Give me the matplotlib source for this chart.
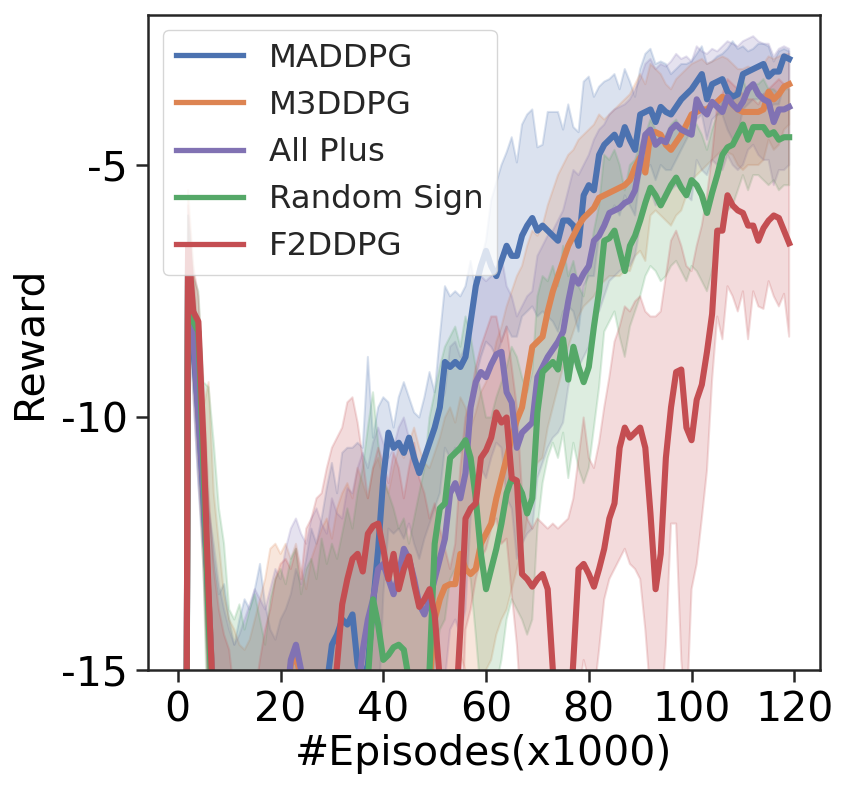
import numpy as np
import matplotlib
matplotlib.use("Agg")
import matplotlib.pyplot as plt

episodes = list(range(120))
labels = ["MADDPG", "M3DDPG", "All Plus", "Random Sign", "F2DDPG"]
colors = ["#4C72B0", "#DD8452", "#8172B3", "#55A868", "#C44E52"]

maddpg_mean = [
 -40, -40, -6.8, -8.6, -9.9, -11.6, -13.6, -15.8, -17, -18,
 -18, -19, -18, -19, -18, -19, -18, -18, -19, -18,
 -18, -17, -18, -17, -17, -17, -16.5, -16.5, -16, -15.3,
 -14.5, -14.3, -14.0, -14.1, -13.9, -14.9, -15.2, -14.9, -13.7, -12.6,
 -11.2, -10.3, -10.6, -10.5, -10.7, -10.4, -10.8, -11.1, -10.8, -10.5,
 -10.2, -9.8, -8.9, -9.0, -8.9, -9.0, -8.8, -8.1, -7.4, -7.0,
 -6.7, -7.0, -7.2, -6.9, -6.6, -6.8, -6.8, -6.4, -6.2, -6.05,
 -6.3, -6.2, -6.3, -6.4, -6.5, -6.1, -6.1, -6.2, -6.6, -5.6,
 -5.4, -5.5, -4.8, -4.6, -4.5, -4.4, -4.6, -4.25, -4.5, -4.7,
 -4.0, -3.95, -3.9, -4.15, -3.85, -3.95, -4.0, -3.85, -3.7, -3.6,
 -3.5, -3.35, -3.2, -3.7, -3.4, -3.35, -3.3, -3.55, -3.65, -3.6,
 -3.2, -3.15, -3.1, -3.05, -3.0, -3.25, -3.15, -3.15, -2.85, -2.9]
maddpg_upper = [
 -40, -40, -6.0, -7.5, -8.5, -10.0, -11.8, -12.8, -13.5, -13.3,
 -14.0, -14.5, -14.0, -13.6, -13.8, -13.4, -12.9, -13.7, -14.2, -14.4,
 -14.0, -13.8, -13.5, -13.0, -13.3, -12.8, -12.2, -12.5, -12.0, -11.4,
 -10.9, -11.5, -10.7, -10.6, -10.6, -10.5, -10.6, -8.8, -10.4, -9.8,
 -9.6, -9.7, -10.2, -9.6, -9.3, -9.6, -9.9, -10.0, -9.6, -9.1,
 -9.5, -8.4, -7.4, -7.6, -7.5, -7.6, -7.4, -6.9, -7.5, -6.9,
 -6.5, -5.7, -5.35, -5.0, -4.75, -4.45, -4.95, -4.2, -4.0, -3.9,
 -4.65, -4.6, -3.95, -3.95, -3.95, -4.3, -3.8, -4.25, -4.35, -3.35,
 -3.25, -3.65, -3.45, -3.35, -3.3, -3.2, -3.5, -3.1, -3.35, -3.65,
 -3.1, -2.8, -2.7, -3.0, -2.95, -3.0, -3.2, -3.1, -3.0, -3.0,
 -2.95, -2.8, -2.65, -3.0, -2.95, -2.85, -2.8, -2.7, -2.55, -2.7,
 -2.65, -2.75, -2.7, -2.6, -2.6, -2.65, -2.95, -2.75, -2.7, -2.75]
maddpg_lower = [
 -40, -40, -7.6, -9.5, -11.3, -13.0, -15.5, -20, -20, -20,
 -20, -20, -20, -20, -20, -20, -20, -20, -20, -20,
 -20, -20, -20, -20, -20, -20, -20, -20, -20, -20,
 -20, -19, -18, -18, -18, -19, -20, -20, -18, -16,
 -13.5, -12.2, -12.3, -12.2, -12.4, -12.1, -12.5, -12.8, -12.4, -12.1,
 -11.8, -11.5, -10.6, -10.8, -10.6, -10.7, -10.5, -9.8, -9.2, -8.8,
 -8.5, -8.6, -8.8, -8.5, -8.2, -8.4, -8.4, -8.0, -7.9, -7.8,
 -8.0, -7.9, -8.0, -8.1, -8.3, -7.9, -7.8, -7.9, -8.3, -7.4,
 -7.2, -7.2, -6.4, -6.1, -6.0, -5.8, -6.0, -5.6, -5.8, -6.0,
 -5.2, -5.1, -5.0, -5.3, -5.0, -5.1, -5.1, -4.9, -4.7, -4.5,
 -4.3, -4.1, -4.0, -4.5, -4.1, -4.0, -4.0, -4.3, -4.5, -4.4,
 -3.9, -3.8, -3.7, -3.7, -3.6, -3.9, -3.8, -3.8, -3.4, -3.4]

m3ddpg_mean = [
 -40, -40, -6.6, -8.2, -9.8, -11.3, -13.6, -15.8, -17, -17.5,
 -18, -18, -18.5, -18, -18, -17.5, -17.5, -17, -17, -16.5,
 -16.5, -15.8, -14.9, -14.7, -15.2, -16, -16.5, -17, -17, -17.5,
 -17.5, -18, -18, -17.5, -17.5, -17, -17, -17, -16.5, -16.5,
 -16.5, -16.5, -16.5, -16, -16, -16, -16, -16, -15.8, -15.3,
 -14.0, -13.6, -13.35, -13.3, -13.3, -12.7, -13.0, -13.1, -13.0, -12.5,
 -12.3, -12.1, -11.6, -11.2, -10.8, -10.4, -10.05, -9.8, -9.2, -8.6,
 -8.5, -8.4, -7.9, -7.5, -7.2, -6.9, -6.6, -6.4, -6.2, -6.05,
 -5.95, -5.85, -5.65, -5.6, -5.55, -5.5, -5.45, -5.4, -5.3, -5.05,
 -4.85, -5.15, -4.35, -4.35, -4.4, -4.6, -4.7, -4.55, -4.4, -4.2,
 -4.0, -3.95, -3.9, -3.9, -3.8, -3.75, -3.65, -3.7, -3.8, -3.9,
 -3.95, -3.95, -3.95, -3.95, -3.9, -3.55, -3.7, -3.6, -3.45, -3.4]
m3ddpg_upper = [
 -40, -40, -5.5, -7.0, -8.5, -9.8, -9.3, -11.5, -12.5, -13.5,
 -14.0, -14.2, -14.5, -14.6, -14.4, -14.0, -13.6, -13.2, -12.6, -12.5,
 -12.7, -12.5, -12.8, -12.5, -13.0, -13.4, -12.8, -12.5, -12.2, -12.0,
 -12.4, -11.8, -11.5, -11.3, -11.6, -11.0, -11.3, -11.6, -11.0, -10.8,
 -11.2, -11.5, -11.0, -10.6, -10.8, -10.5, -10.2, -10.6, -10.9, -11.0,
 -10.7, -10.4, -10.0, -9.8, -10.1, -9.6, -9.8, -10.2, -9.9, -9.5,
 -9.3, -9.0, -8.5, -8.2, -7.8, -7.5, -7.2, -7.0, -6.6, -6.3,
 -6.4, -6.2, -5.8, -5.5, -5.2, -5.0, -4.8, -4.7, -4.5, -4.4,
 -4.3, -4.2, -4.0, -4.1, -4.0, -3.9, -3.8, -3.7, -3.6, -3.4,
 -3.2, -3.4, -3.0, -3.1, -3.2, -3.4, -3.5, -3.3, -3.2, -3.1,
 -3.0, -2.95, -2.9, -3.0, -2.95, -2.9, -2.85, -2.9, -3.0, -3.1,
 -3.1, -3.05, -3.1, -3.1, -3.0, -2.85, -2.9, -2.85, -2.8, -2.8]
m3ddpg_lower = [
 -40, -40, -7.6, -9.3, -11.0, -13.0, -16, -20, -20, -20,
 -20, -20, -20, -20, -20, -20, -20, -20, -20, -20,
 -20, -20, -20, -20, -20, -20, -20, -20, -20, -20,
 -20, -20, -20, -20, -20, -20, -20, -20, -20, -20,
 -20, -20, -20, -20, -20, -20, -20, -20, -20, -20,
 -16, -15.5, -15.2, -15.0, -15.1, -14.7, -15.0, -15.5, -15.6, -15.2,
 -15.0, -14.8, -14.3, -14.0, -13.8, -13.4, -13.0, -12.6, -12.0, -11.2,
 -10.9, -10.8, -10.2, -9.8, -9.4, -9.0, -8.6, -8.3, -8.0, -7.8,
 -7.7, -7.6, -7.4, -7.3, -7.2, -7.2, -7.2, -7.1, -7.1, -6.8,
 -6.7, -6.9, -6.0, -5.9, -6.0, -6.1, -6.2, -6.0, -5.9, -5.6,
 -5.3, -5.2, -5.1, -5.0, -4.9, -4.8, -4.7, -4.75, -4.8, -5.0,
 -5.1, -5.0, -5.0, -5.0, -4.9, -4.5, -4.7, -4.6, -4.3, -4.2]

allplus_mean = [
 -40, -40, -6.7, -8.4, -9.9, -11.5, -13.7, -15.9, -17, -17.5,
 -18, -18, -18, -18, -17.5, -17.5, -17, -17, -16.5, -16.5,
 -16, -15.8, -14.8, -14.5, -15.0, -16, -16.5, -17, -17, -17,
 -17, -17, -17, -16.5, -16.5, -15.5, -14.6, -14.0, -13.6, -13.0,
 -12.9, -13.2, -13.5, -13.1, -12.6, -12.8, -13.2, -13.7, -13.9, -13.6,
 -13.2, -12.8, -12.4, -11.5, -11.3, -11.6, -11.1, -9.8, -9.3, -9.1,
 -9.2, -8.95, -8.75, -8.7, -9.5, -9.7, -10.6, -10.3, -10.2, -10.1,
 -9.2, -9.0, -8.8, -8.65, -8.5, -8.3, -7.7, -7.2, -7.35, -7.15,
 -7.0, -6.5, -6.4, -6.2, -5.95, -5.9, -5.85, -5.75, -5.7, -5.5,
 -4.95, -4.4, -4.3, -4.6, -4.5, -4.55, -4.3, -4.2, -4.3, -4.35,
 -4.4, -3.7, -3.9, -4.0, -3.75, -3.85, -3.95, -3.65, -3.8, -3.9,
 -3.75, -3.5, -3.4, -3.6, -3.7, -3.75, -4.15, -3.9, -3.9, -3.85]
allplus_upper = [
 -40, -40, -6.0, -7.3, -8.6, -10.5, -11.8, -12.5, -13.3, -13.8,
 -14.2, -14.5, -14.3, -14.0, -13.7, -13.4, -13.6, -13.8, -13.4, -13.0,
 -13.2, -12.6, -12.2, -12.0, -12.3, -12.5, -12.0, -11.8, -12.1, -12.3,
 -11.6, -11.9, -12.0, -11.4, -11.5, -11.0, -10.7, -11.0, -10.5, -10.2,
 -10.5, -10.8, -10.6, -10.2, -10.0, -10.4, -10.6, -11.0, -10.8, -10.6,
 -10.2, -9.8, -9.5, -8.6, -8.5, -8.8, -8.6, -7.9, -7.5, -7.2,
 -7.3, -7.2, -7.0, -6.8, -7.4, -7.6, -8.0, -7.8, -7.6, -7.5,
 -6.8, -6.6, -6.4, -6.3, -6.1, -5.9, -5.5, -5.1, -5.2, -5.0,
 -4.8, -4.5, -4.3, -4.2, -4.0, -3.9, -3.85, -3.8, -3.7, -3.5,
 -3.3, -3.0, -2.9, -3.1, -3.0, -3.05, -2.95, -2.8, -2.9, -2.85,
 -2.95, -2.65, -2.75, -2.8, -2.7, -2.75, -2.65, -2.55, -2.6, -2.65,
 -2.55, -2.5, -2.45, -2.55, -2.6, -2.6, -2.85, -2.7, -2.65, -2.7]
allplus_lower = [
 -40, -40, -7.6, -9.5, -11.3, -12.6, -15.5, -20, -20, -20,
 -20, -20, -20, -20, -20, -20, -20, -20, -20, -20,
 -20, -20, -20, -20, -20, -20, -20, -20, -20, -20,
 -20, -20, -20, -20, -20, -19, -18, -16.5, -16, -15.5,
 -15.4, -15.8, -16.2, -15.8, -15.0, -15.2, -15.7, -16.3, -16.8, -16.5,
 -16, -15.5, -15.2, -14.2, -14.0, -14.3, -13.8, -12.0, -11.2, -11.0,
 -11.2, -10.8, -10.5, -10.6, -11.6, -11.8, -12.8, -12.5, -12.3, -12.2,
 -11.2, -10.9, -10.6, -10.4, -10.3, -10.1, -9.4, -8.9, -9.0, -8.8,
 -8.6, -8.0, -7.9, -7.6, -7.3, -7.2, -7.1, -7.0, -7.0, -6.8,
 -6.2, -5.6, -5.5, -5.8, -5.7, -5.7, -5.5, -5.4, -5.5, -5.6,
 -5.7, -4.9, -5.1, -5.2, -4.9, -5.0, -5.1, -4.8, -5.0, -5.1,
 -5.0, -4.7, -4.6, -4.8, -4.9, -4.9, -5.4, -5.1, -5.1, -5.0]

randsign_mean = [
 -40, -40, -6.9, -8.1, -8.3, -11.0, -14.0, -16.5, -17, -17.5,
 -18, -18, -18, -18, -18, -18, -17.5, -17.5, -17, -17,
 -17, -17, -17, -17, -17, -17, -17, -17, -17, -17,
 -17, -17, -17, -17, -17, -16.5, -16.0, -15.2, -13.6, -14.1,
 -14.8, -14.7, -14.55, -14.5, -14.6, -15.2, -16, -16.5, -16.5, -15.0,
 -12.5, -11.8, -11.7, -10.8, -10.7, -10.6, -10.45, -10.8, -11.6, -12.7,
 -13.4, -13.0, -12.6, -12.1, -11.5, -11.2, -11.3, -11.5, -11.9, -11.6,
 -9.9, -9.1, -9.0, -8.9, -9.05, -8.45, -9.25, -8.6, -9.0, -9.3,
 -9.0, -8.2, -7.5, -6.5, -6.45, -6.3, -6.7, -7.1, -6.6, -6.4,
 -6.1, -5.75, -5.45, -5.6, -5.8, -5.6, -5.4, -5.25, -5.45, -5.6,
 -5.3, -5.4, -5.6, -5.95, -5.55, -5.2, -4.8, -4.65, -4.6, -4.4,
 -4.2, -4.5, -4.25, -4.25, -4.25, -4.4, -4.35, -4.5, -4.45, -4.45]
randsign_upper = [
 -40, -40, -6.0, -7.2, -7.5, -9.3, -9.4, -10.5, -11.8, -12.5,
 -13.8, -14.0, -13.7, -14.2, -13.8, -13.5, -14.0, -14.5, -13.6, -13.2,
 -13.0, -13.3, -12.8, -12.6, -13.5, -13.0, -12.8, -13.2, -12.4, -12.9,
 -12.5, -12.8, -12.3, -11.8, -12.2, -11.5, -11.0, -10.2, -9.5, -10.5,
 -11.2, -11.5, -11.8, -12.2, -12.0, -12.5, -12.0, -11.5, -11.0, -10.0,
 -9.5, -9.0, -8.6, -8.4, -8.2, -8.6, -8.0, -8.4, -9.0, -9.5,
 -10.0, -10.0, -9.6, -9.3, -9.0, -8.6, -8.8, -9.2, -9.5, -9.1,
 -7.6, -7.2, -7.3, -7.0, -7.4, -6.6, -7.2, -6.9, -7.4, -7.6,
 -7.0, -6.3, -5.8, -4.8, -4.9, -4.7, -5.0, -5.5, -5.0, -4.9,
 -4.6, -4.4, -4.1, -4.3, -4.5, -4.4, -4.2, -4.1, -4.3, -4.4,
 -4.1, -4.2, -4.4, -4.7, -4.3, -4.0, -3.7, -3.6, -3.6, -3.5,
 -3.3, -3.6, -3.4, -3.4, -3.3, -3.5, -3.5, -3.6, -3.5, -3.5]
randsign_lower = [
 -40, -40, -7.8, -9.0, -10.0, -13.0, -17, -20, -20, -20,
 -20, -20, -20, -20, -20, -20, -20, -20, -20, -20,
 -20, -20, -20, -20, -20, -20, -20, -20, -20, -20,
 -20, -20, -20, -20, -20, -20, -20, -20, -20, -20,
 -20, -20, -20, -20, -20, -20, -20, -20, -20, -20,
 -14.8, -14.2, -14.0, -13.2, -13.0, -12.8, -12.9, -13.2, -14.3, -15.5,
 -16.5, -16, -15.3, -14.8, -14.0, -13.6, -13.8, -14.0, -14.3, -14.0,
 -12.2, -11.3, -10.8, -10.5, -10.8, -10.3, -11.2, -10.5, -11.0, -11.3,
 -11.0, -10.2, -9.4, -8.3, -8.1, -7.9, -8.4, -8.8, -8.2, -7.9,
 -7.6, -7.2, -7.0, -7.1, -7.3, -7.2, -7.0, -6.9, -7.1, -7.3,
 -7.0, -7.1, -7.3, -7.5, -7.1, -6.6, -6.1, -5.9, -5.8, -5.5,
 -5.2, -5.5, -5.2, -5.2, -5.3, -5.4, -5.3, -5.5, -5.4, -5.4]

f2ddpg_mean = [
 -40, -40, -6.6, -7.9, -8.1, -10.5, -13.5, -16, -17, -17.5,
 -18, -18, -18, -18, -18, -18, -18, -18, -18, -18,
 -18, -18, -18, -17.5, -17.5, -17, -17, -17, -16.5, -16.5,
 -16, -14.9, -13.7, -13.2, -12.8, -12.7, -13.05, -12.3, -12.15, -12.1,
 -12.6, -13.2, -12.7, -13.4, -13.0, -12.75, -13.3, -13.75, -13.6, -13.4,
 -13.9, -15.2, -16, -16.5, -16, -14.2, -12.0, -11.8, -11.7, -10.8,
 -10.65, -10.4, -9.9, -10.1, -10.0, -11.2, -11.25, -13.1, -13.2, -13.35,
 -13.2, -13.1, -13.4, -15.0, -16.5, -17, -16.5, -14.8, -13.0, -12.9,
 -13.1, -13.35, -13.0, -12.6, -12.0, -11.7, -10.6, -10.2, -10.4, -10.3,
 -10.2, -10.6, -11.9, -13.4, -12.7, -10.8, -9.8, -9.1, -9.05, -10.2,
 -10.45, -9.65, -9.35, -8.7, -7.95, -6.3, -6.3, -5.6, -5.8, -5.9,
 -5.95, -6.2, -6.2, -6.5, -6.25, -6.1, -6.0, -6.05, -6.3, -6.55]
f2ddpg_upper = [
 -40, -40, -5.8, -7.0, -7.6, -9.5, -11.5, -13.0, -13.8, -14.3,
 -14.6, -15.5, -15.5, -15.5, -15.5, -15.5, -14.8, -14.2, -13.8, -13.2,
 -12.9, -12.8, -13.0, -12.6, -13.2, -12.2, -12.0, -11.6, -11.5, -11.0,
 -10.6, -10.4, -10.2, -9.7, -9.6, -10.1, -10.8, -11.6, -11.0, -10.6,
 -10.9, -11.3, -10.7, -11.0, -11.6, -11.0, -10.5, -11.2, -11.5, -12.0,
 -11.7, -12.2, -12.6, -13.0, -12.5, -11.0, -10.0, -9.6, -9.0, -8.6,
 -8.3, -8.0, -8.0, -8.5, -8.2, -9.0, -9.8, -11.5, -12.0, -12.2,
 -12.0, -12.1, -12.2, -12.1, -12.2, -12.1, -12.0, -11.6, -10.8, -10.0,
 -10.8, -11.0, -10.5, -9.8, -9.2, -8.5, -8.2, -7.8, -7.9, -7.7,
 -7.6, -7.9, -8.0, -8.0, -7.9, -7.2, -6.5, -6.3, -6.6, -7.0,
 -7.1, -6.6, -6.2, -5.6, -4.8, -3.8, -3.6, -3.3, -3.4, -3.5,
 -3.6, -3.7, -3.7, -3.8, -3.6, -3.5, -3.4, -3.3, -3.4, -3.5]
f2ddpg_lower = [
 -40, -40, -7.5, -9.0, -9.5, -12.0, -15.5, -20, -20, -20,
 -20, -20, -20, -20, -20, -20, -20, -20, -20, -20,
 -20, -20, -20, -20, -20, -20, -20, -20, -20, -20,
 -20, -20, -20, -20, -20, -20, -20, -20, -20, -20,
 -20, -20, -20, -20, -20, -20, -20, -20, -20, -20,
 -20, -20, -20, -20, -20, -17, -14.2, -13.8, -13.2, -12.8,
 -12.6, -12.2, -12.0, -12.5, -12.4, -13.5, -14.5, -16, -17, -17,
 -17, -17, -17, -18, -18, -18, -18, -17, -15.5, -14.8,
 -15.2, -15.5, -14.6, -13.6, -13.2, -13.0, -12.8, -12.6, -12.9, -13.0,
 -13.2, -14.2, -15.5, -16.5, -16, -14.5, -12.1, -12.1, -14.8, -16,
 -13.4, -12.9, -12.0, -11.05, -9.25, -8.0, -8.45, -7.4, -7.6, -7.9,
 -7.5, -8.45, -7.5, -7.8, -7.85, -7.3, -7.6, -7.8, -7.55, -8.4]

means = [maddpg_mean, m3ddpg_mean, allplus_mean, randsign_mean, f2ddpg_mean]
uppers = [maddpg_upper, m3ddpg_upper, allplus_upper, randsign_upper, f2ddpg_upper]
lowers = [maddpg_lower, m3ddpg_lower, allplus_lower, randsign_lower, f2ddpg_lower]

xticks = [0, 20, 40, 60, 80, 100, 120]
yticks = [-15, -10, -5]
ytick_labels = ["-15", "-10", "-5"]

plt.rcParams["axes.unicode_minus"] = False
plt.rcParams["font.family"] = ["DejaVu Sans"]
TXT = "#262626"

fig = plt.figure(figsize=(8.47, 7.90), dpi=100)
ax = fig.add_axes([148/847, 1-670/790, (820-148)/847, (670-15)/790])

x = np.array(episodes)
handles = []
for m, u, l, c, lab in zip(means, uppers, lowers, colors, labels):
    ax.fill_between(x, l, u, color=c, alpha=0.2, linewidth=1.5)
    h, = ax.plot(x, m, color=c, lw=4.4, label=lab)
    handles.append(h)

ax.set_xlim(-5.8, 125.0)
ax.set_ylim(-15, -2.03)
ax.set_xticks(xticks)
ax.set_yticks(yticks)
ax.set_yticklabels(ytick_labels)
for s in ax.spines.values():
    s.set_linewidth(1.8)
    s.set_color(TXT)
ax.tick_params(axis="both", labelsize=29.5, length=8.5, width=1.8, color=TXT,
               labelcolor="black", pad=6)
ax.set_xlabel("#Episodes(x1000)", fontsize=29.5, color="black", labelpad=3)
ax.set_ylabel("Reward", fontsize=29.5, color="black", labelpad=8)

leg = ax.legend(handles=handles, loc="upper left", fontsize=23.3,
                bbox_to_anchor=(0.0, 1.0), borderaxespad=0.45,
                handlelength=2.1, handletextpad=0.8, labelspacing=0.5,
                framealpha=0.8, edgecolor="0.8", fancybox=True)
for t in leg.get_texts():
    t.set_color(TXT)
for lh in leg.get_lines():
    lh.set_linewidth(3.8)

fig.savefig("out.png", dpi=100)
